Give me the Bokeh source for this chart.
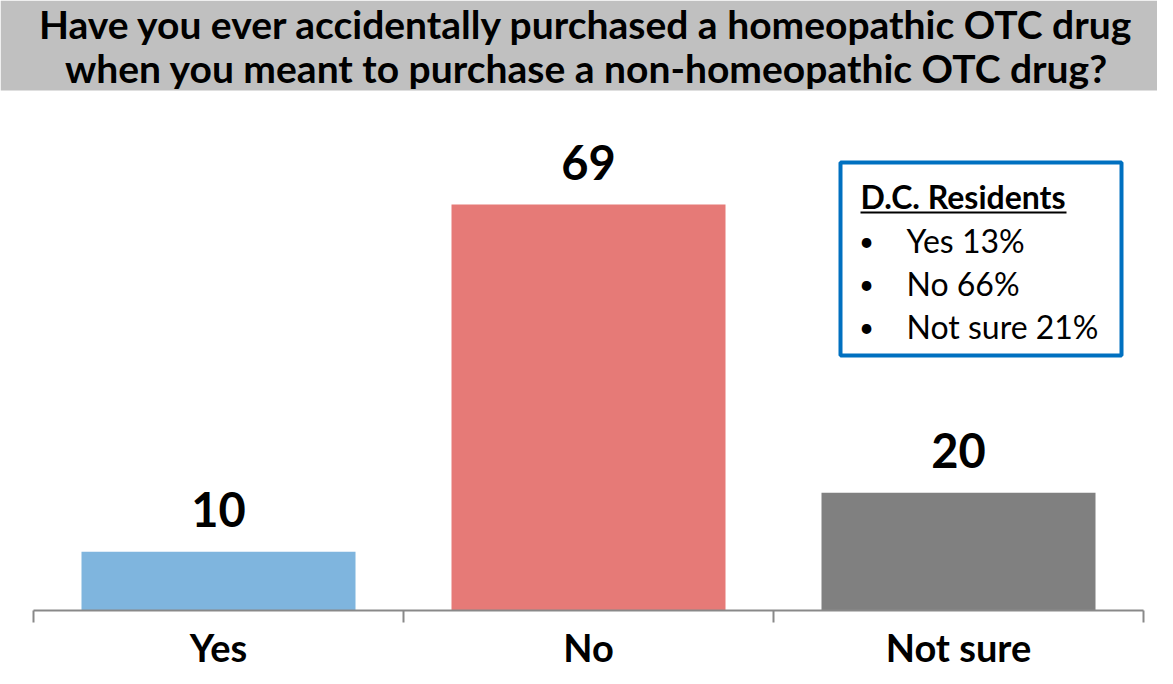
from bokeh.plotting import figure
from bokeh.models import BoxAnnotation, Range1d
from bokeh.core.properties import value
from bokeh.embed import file_html
from bokeh.resources import INLINE

# ---------------- data ----------------
categories = ["Yes", "No", "Not sure"]
values = [10, 69, 20]
bar_colors = ["#7FB5DE", "#E67A77", "#808080"]

title_lines = [
    "Have you ever accidentally purchased a homeopathic OTC drug",
    "when you meant to purchase a non-homeopathic OTC drug?",
]

dc_title = "D.C. Residents"
dc_labels = ["Yes", "No", "Not sure"]
dc_values = [13, 66, 21]

# ---------------- geometry ----------------
W, H = 1157, 668

cat_w = 370.0            # px per category
x0_px = 33.0             # px of the left end of the axis
y0_px = 610.0            # px of the axis line
py_unit = 406.0 / 69.0   # px per value unit


def dx(px):
    return (px - x0_px) / cat_w


def dy(py):
    return (y0_px - py) / py_unit


FONT = "Lato"

p = figure(width=W, height=H, output_backend="svg", toolbar_location=None,
           x_range=Range1d(dx(0), dx(W)), y_range=Range1d(dy(H), dy(0)),
           min_border=0, outline_line_color=None)
p.axis.visible = False
p.grid.visible = False
p.background_fill_color = "white"
p.border_fill_color = "white"

# title banner
p.add_layout(BoxAnnotation(bottom=dy(90), fill_color="#C0C0C0", fill_alpha=1.0,
                           line_color=None, level="underlay"))
p.text(x=[dx(586)] * 2, y=[dy(23), dy(67)], text=title_lines,
       text_font=value(FONT), text_font_style="bold", text_font_size="39px",
       text_align="center", text_baseline="middle", text_color="black")

# bars
xs = [i + 0.5 for i in range(len(categories))]
p.vbar(x=xs, top=values, bottom=0, width=274 / cat_w, fill_color=bar_colors,
       line_color=None)

# value labels
p.text(x=xs, y=values, text=[str(v) for v in values], y_offset=-42,
       text_font=value(FONT), text_font_style="bold", text_font_size="47px",
       text_align="center", text_baseline="middle", text_color="black")

# axis line and boundary ticks
n = len(categories)
p.segment(x0=[0], y0=[0], x1=[n], y1=[0], line_color="#898989", line_width=2)
tick_len = 12 / py_unit
p.segment(x0=list(range(n + 1)), y0=[0] * (n + 1), x1=list(range(n + 1)),
          y1=[-tick_len] * (n + 1), line_color="#898989", line_width=2)

# category labels
p.text(x=xs, y=[0] * n, text=categories, y_offset=36,
       text_font=value(FONT), text_font_style="bold", text_font_size="38px",
       text_align="center", text_baseline="middle", text_color="black")

# D.C. Residents box
p.add_layout(BoxAnnotation(left=dx(840), right=dx(1121), top=dy(162), bottom=dy(355),
                           fill_color="white", fill_alpha=1.0,
                           line_color="#0070C0", line_alpha=1.0, line_width=4,
                           level="underlay"))
p.text(x=[dx(860)], y=[dy(196)], text=[dc_title],
       text_font=value(FONT), text_font_style="bold", text_font_size="32px",
       text_align="left", text_baseline="middle", text_color="black")
p.segment(x0=[dx(860)], y0=[dy(212)], x1=[dx(1066)], y1=[dy(212)],
          line_color="black", line_width=2)
item_y = [dy(240 + 43 * i) for i in range(len(dc_labels))]
p.text(x=[dx(866)] * len(dc_labels), y=item_y, text=["•"] * len(dc_labels),
       text_font=value(FONT), text_font_size="26px",
       text_align="center", text_baseline="middle", text_color="black")
p.text(x=[dx(906)] * len(dc_labels), y=item_y,
       text=[f"{l} {v}%" for l, v in zip(dc_labels, dc_values)],
       text_font=value(FONT), text_font_size="32px",
       text_align="left", text_baseline="middle", text_color="black")

open("out.html", "w").write(file_html(p, INLINE))
